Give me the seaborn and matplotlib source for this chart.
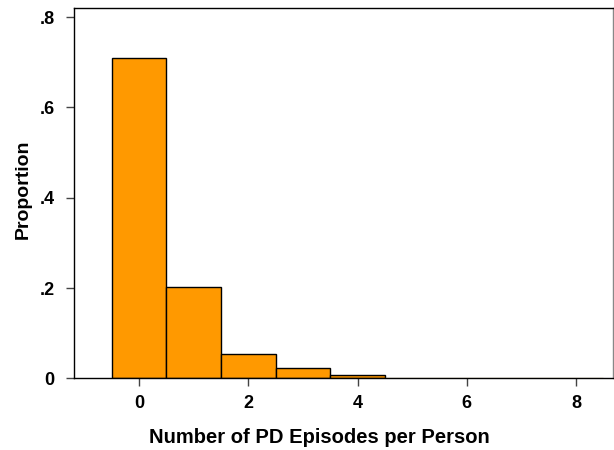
import numpy as np
import pandas as pd
import seaborn as sns
import matplotlib.pyplot as plt

# episodes per person and their proportions
episodes = [0, 1, 2, 3, 4, 5, 6, 7, 8]
proportions = [0.710, 0.203, 0.055, 0.024, 0.007, 0.002, 0.001, 0.001, 0.001]

y_ticks = [0, 0.2, 0.4, 0.6, 0.8]
y_tick_labels = ['0', '.2', '.4', '.6', '.8']
x_ticks = [0, 2, 4, 6, 8]

sns.set_style('white')
plt.rcParams['font.family'] = ['Liberation Sans', 'DejaVu Sans']
plt.rcParams['font.weight'] = 'bold'
plt.rcParams['text.color'] = 'black'
plt.rcParams['axes.labelcolor'] = 'black'
plt.rcParams['xtick.labelcolor'] = 'black'
plt.rcParams['ytick.labelcolor'] = 'black'

df = pd.DataFrame({'episodes': episodes, 'proportion': proportions})

fig = plt.figure(figsize=(6.14, 4.5), dpi=100)
ax = fig.add_axes([0.1205, 0.159, 0.8775, 0.823])

sns.histplot(data=df, x='episodes', weights='proportion', discrete=True,
             color='#FF9900', alpha=1, edgecolor='black', linewidth=1.0, ax=ax)

# near-zero bars show up only as a faint line along the base
for p in ax.patches:
    if p.get_height() < 0.005:
        p.set_edgecolor('#C8BC8A')

ax.set_xlim(-1.19, 8.67)
ax.set_ylim(0, 0.82)
ax.set_xticks(x_ticks)
ax.set_xticklabels([str(t) for t in x_ticks])
ax.set_yticks(y_ticks)
ax.set_yticklabels(y_tick_labels)
ax.tick_params(axis='both', which='both', direction='out', length=6, width=1,
               color='#444444', labelsize=13, pad=6)
ax.tick_params(axis='y', pad=8)
ax.tick_params(left=True, bottom=True)
for lab in ax.get_xticklabels() + ax.get_yticklabels():
    lab.set_fontweight('bold')

for side in ['left', 'right', 'top', 'bottom']:
    ax.spines[side].set_visible(True)
    ax.spines[side].set_color('black')
    ax.spines[side].set_linewidth(1.0)
ax.spines['right'].set_color('#888888')

ax.set_xlabel('Number of PD Episodes per Person', fontsize=14.5, fontweight='bold')
ax.set_ylabel('Proportion', fontsize=14, fontweight='bold')
ax.xaxis.set_label_coords(0.456, -0.135)
ax.yaxis.set_label_coords(-0.078, 0.51)

plt.savefig('out.png', dpi=100)
